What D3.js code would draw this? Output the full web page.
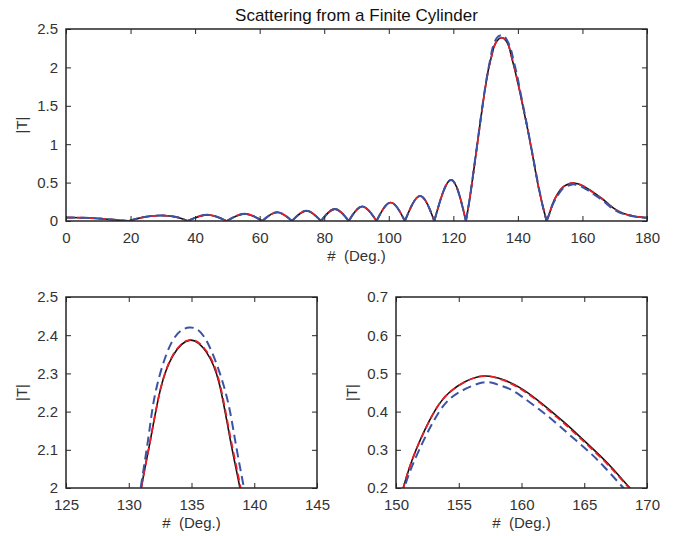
<!DOCTYPE html>
<html>
<head>
<meta charset="utf-8">
<script src="https://cdn.jsdelivr.net/npm/d3@7"></script>
<style>
  body { margin: 0; background: #fff; }
  svg { font-family: "Liberation Sans", Arial, Helvetica, sans-serif; }
  .tick text { fill: #333; font-size: 15px; }
  .tick line { stroke: #262626; stroke-width: 1; }
</style>
</head>
<body>
<div id="chart"></div>
<script>
// minor lobes, all three curves lie on top of each other here
const sharedTheta = [0, 6, 10, 14, 19.5, 24, 29.5, 34.5, 37.7, 43.8, 49.8, 55.4, 60.8, 65.4, 70.0,
  74.5, 79.0, 83.3, 87.6, 91.8, 96.2, 100.6, 105.0, 109.7, 114.1, 119.3, 123.9];
const sharedT = [0.045, 0.042, 0.033, 0.02, 0, 0.05, 0.072, 0.048, 0, 0.08, 0, 0.093, 0, 0.113, 0,
  0.132, 0, 0.155, 0, 0.188, 0, 0.24, 0, 0.325, 0, 0.535, 0];

// main lobe (124-149 deg)
const mainTheta = [125.0, 126.1, 127.2, 128.3, 129.4, 130.3, 131.0, 131.75, 132.5, 133.5, 134.9,
  136.2, 137.2, 138.07, 138.86, 139.7, 140.5, 141.2, 141.9, 143.0, 144.0, 144.8, 146.1, 146.8,
  147.5, 148.2, 148.9];
const mainBlack = [0.27, 0.59, 0.93, 1.27, 1.60, 1.84, 2.0, 2.13, 2.255, 2.345, 2.387,
  2.355, 2.275, 2.13, 2.0, 1.85, 1.70, 1.56, 1.42, 1.20, 0.98, 0.80, 0.50, 0.36,
  0.23, 0.11, 0];
const mainRed = [0.27, 0.59, 0.93, 1.27, 1.60, 1.84, 2.0, 2.13, 2.255, 2.347, 2.388,
  2.358, 2.28, 2.138, 2.01, 1.86, 1.71, 1.57, 1.43, 1.20, 0.98, 0.80, 0.50, 0.36,
  0.23, 0.11, 0];
const blueMainTheta = [125.0, 126.1, 127.2, 128.3, 129.4, 130.3, 130.95, 131.6, 132.17, 133.4, 134.83,
  136.2, 137.67, 138.45, 139.18, 139.9, 140.5, 141.2, 141.9, 143.0, 144.0, 144.8, 146.1, 146.8,
  147.5, 148.2, 148.9];
const mainBlue = [0.27, 0.60, 0.94, 1.28, 1.61, 1.85, 2.0, 2.14, 2.256, 2.38, 2.42,
  2.385, 2.256, 2.13, 2.0, 1.87, 1.74, 1.59, 1.44, 1.21, 0.99, 0.81, 0.52, 0.37,
  0.23, 0.11, 0];

// side lobe (149-180 deg)
const sideTheta = [149.7, 150.58, 151.6, 153.06, 154.25, 155.5, 157.0, 158.5, 159.9, 161.2, 162.4,
  163.5, 164.6, 165.9, 167.2, 168.5, 169.3, 170, 171, 172, 173, 174, 176, 178, 180];
const sideBlack = [0.09, 0.2, 0.3, 0.4, 0.45, 0.478, 0.493, 0.484, 0.462, 0.432, 0.40,
  0.369, 0.336, 0.296, 0.253, 0.205, 0.179, 0.158, 0.132, 0.111, 0.094, 0.081, 0.062, 0.05, 0.044];
const sideRed = [0.09, 0.2, 0.3, 0.4, 0.45, 0.478, 0.493, 0.483, 0.46, 0.43, 0.397,
  0.366, 0.333, 0.293, 0.25, 0.203, 0.177, 0.157, 0.131, 0.11, 0.094, 0.081, 0.062, 0.05, 0.044];
const blueSideTheta = [149.7, 150.66, 151.85, 153.45, 155.0, 156.9, 158.0, 159.0, 160.0, 161.2,
  162.4, 163.8, 165.4, 166.6, 167.85, 168.6, 170, 171, 172, 173, 174, 176, 178, 180];
const sideBlue = [0.085, 0.2, 0.3, 0.4, 0.45, 0.476, 0.472, 0.46, 0.44, 0.411,
  0.38, 0.34, 0.294, 0.255, 0.21, 0.184, 0.142, 0.12, 0.102, 0.088, 0.077, 0.06, 0.049, 0.043];

const xTicksTop = [0, 20, 40, 60, 80, 100, 120, 140, 160, 180];
const yTicksTop = [0, 0.5, 1, 1.5, 2, 2.5];
const xTicksLeft = [125, 130, 135, 140, 145];
const yTicksLeft = [2, 2.1, 2.2, 2.3, 2.4, 2.5];
const xTicksRight = [150, 155, 160, 165, 170];
const yTicksRight = [0.2, 0.3, 0.4, 0.5, 0.6, 0.7];

const titleText = "Scattering from a Finite Cylinder";
const xLabel = "#  (Deg.)";
const yLabel = "|T|";

function zip(xs, ys) { return xs.map((x, i) => [x, ys[i]]); }

const shared = zip(sharedTheta, sharedT);
const series = [
  { name: "black", color: "#111", width: 1.6, dash: null,
    pts: shared.concat(zip(mainTheta, mainBlack), zip(sideTheta, sideBlack)) },
  { name: "red", color: "#ec1c24", width: 1.8, dash: "7,4",
    pts: shared.concat(zip(mainTheta, mainRed), zip(sideTheta, sideRed)) },
  { name: "blue", color: "#3a54a4", width: 2, dash: "9,5",
    pts: shared.concat(zip(blueMainTheta, mainBlue), zip(blueSideTheta, sideBlue)) }
];

// split at the nulls so every lobe keeps its sharp V
function lobes(pts) {
  const out = [];
  let cur = [];
  pts.forEach((p, i) => {
    cur.push(p);
    if (p[1] === 0 && i > 0) { out.push(cur); cur = [p]; }
  });
  if (cur.length > 1) out.push(cur);
  return out;
}

const W = 675, H = 536;
const svg = d3.select("#chart").append("svg")
  .attr("width", W).attr("height", H);

const panels = [
  { id: "top", left: 66, right: 647, top: 29, bottom: 221,
    xDom: [0, 180], yDom: [0, 2.5], xTicks: xTicksTop, yTicks: yTicksTop },
  { id: "bl", left: 66, right: 317, top: 297, bottom: 488,
    xDom: [125, 145], yDom: [2, 2.5], xTicks: xTicksLeft, yTicks: yTicksLeft },
  { id: "br", left: 396, right: 647, top: 297, bottom: 488,
    xDom: [150, 170], yDom: [0.2, 0.7], xTicks: xTicksRight, yTicks: yTicksRight }
];

const fmt = d3.format("~g");

panels.forEach(p => {
  const w = p.right - p.left, h = p.bottom - p.top;
  const x = d3.scaleLinear().domain(p.xDom).range([0, w]);
  const y = d3.scaleLinear().domain(p.yDom).range([h, 0]);
  const g = svg.append("g").attr("transform", `translate(${p.left},${p.top})`);

  g.append("clipPath").attr("id", "clip-" + p.id)
    .append("rect").attr("width", w).attr("height", h);

  const line = d3.line().x(d => x(d[0])).y(d => y(d[1])).curve(d3.curveNatural);
  const plot = g.append("g").attr("clip-path", `url(#clip-${p.id})`);
  series.forEach(s => {
    plot.append("g").selectAll("path")
      .data(lobes(s.pts))
      .join("path")
      .attr("d", line)
      .attr("fill", "none")
      .attr("stroke", s.color)
      .attr("stroke-width", s.width)
      .attr("stroke-dasharray", s.dash);
  });

  // ticks point inward on all four sides
  g.append("g").attr("transform", `translate(0,${h})`)
    .call(d3.axisBottom(x).tickValues(p.xTicks).tickFormat(fmt).tickSizeInner(-5).tickSizeOuter(0).tickPadding(11));
  g.append("g")
    .call(d3.axisTop(x).tickValues(p.xTicks).tickFormat("").tickSizeInner(-5).tickSizeOuter(0));
  g.append("g")
    .call(d3.axisLeft(y).tickValues(p.yTicks).tickFormat(fmt).tickSizeInner(-5).tickSizeOuter(0).tickPadding(8));
  g.append("g").attr("transform", `translate(${w},0)`)
    .call(d3.axisRight(y).tickValues(p.yTicks).tickFormat("").tickSizeInner(-5).tickSizeOuter(0));
  g.selectAll(".domain").remove();

  g.append("rect").attr("width", w).attr("height", h)
    .attr("fill", "none").attr("stroke", "#262626").attr("stroke-width", 1.5);

  g.append("text")
    .attr("x", w / 2).attr("y", h + 40)
    .attr("text-anchor", "middle")
    .style("font-size", "15px").style("fill", "#333")
    .style("white-space", "pre")
    .text(xLabel);

  g.append("text")
    .attr("transform", `translate(${-39},${h / 2}) rotate(-90)`)
    .attr("text-anchor", "middle")
    .style("font-size", "15px").style("fill", "#333")
    .text(yLabel);
});

svg.append("text")
  .attr("x", (66 + 647) / 2).attr("y", 21)
  .attr("text-anchor", "middle")
  .style("font-size", "17px").style("fill", "#111")
  .text(titleText);
</script>
</body>
</html>
